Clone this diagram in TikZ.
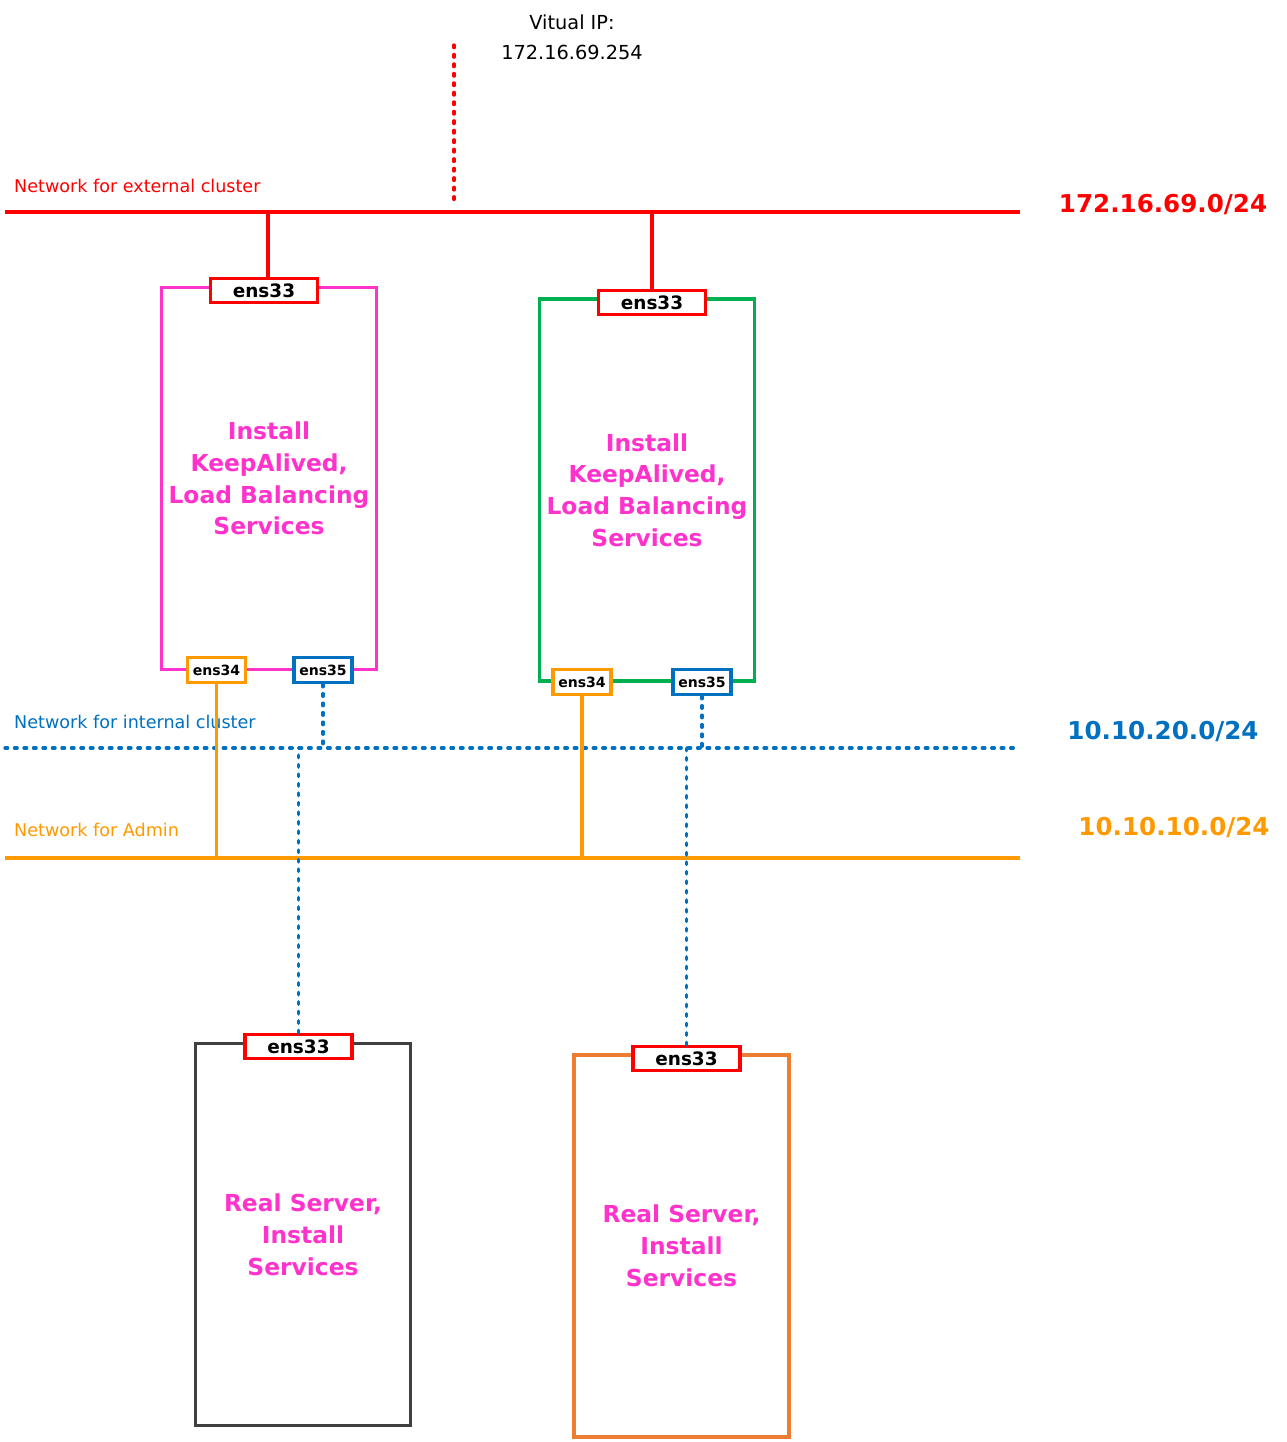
\documentclass[tikz,border=0pt]{standalone}
\usepackage{fontspec}
\setmainfont{DejaVu Sans}
\usepackage{xcolor}
\usetikzlibrary{positioning}
\definecolor{netred}{HTML}{FF0000}
\definecolor{netblue}{HTML}{0070C0}
\definecolor{netorange}{HTML}{FF9900}
\definecolor{lbpink}{HTML}{FF33CC}
\definecolor{lbgreen}{HTML}{00B050}
\definecolor{rsgray}{HTML}{404040}
\definecolor{rsorange}{HTML}{ED7D31}

\begin{document}
\begin{tikzpicture}[x=0.02cm,y=-0.02cm,
  port/.style={draw=#1,line width=1.9pt,fill=white,inner sep=0pt},
  eth33/.style={port=netred,minimum width=2.14cm,minimum height=0.48cm,font=\fontsize{10.5}{12}\selectfont\bfseries},
  ethsmall/.style={port=#1,minimum width=1.16cm,minimum height=0.5cm,font=\fontsize{8}{10}\selectfont\bfseries},
  server/.style={draw=#1,line width=1.9pt,minimum width=4.3cm,minimum height=7.64cm,inner sep=0pt,align=center,text=lbpink,font=\fontsize{13.3}{18.1}\selectfont\bfseries},
  net/.style={line width=1.9pt,#1},
  dots/.style={line width=1.9pt,line cap=round,dash pattern=on 1.5pt off 3.9pt,#1},
  netlabel/.style={anchor=west,font=\fontsize{10}{12}\selectfont,text=#1},
  netaddr/.style={font=\fontsize{14}{16}\selectfont\bfseries,text=#1}]
\useasboundingbox (0,0) rectangle (1286,1442);

% network names
\node[netlabel=netred] (extlbl) at (8,186) {Network for external cluster};
\node[netlabel=netblue] (intlbl) at (8,722) {Network for internal cluster};
\node[netlabel=netorange] (admlbl) at (8,830) {Network for Admin};
\node[netaddr=netred] (extaddr) at (1163,205) {172.16.69.0/24};
\node[netaddr=netblue] (intaddr) at (1163,732) {10.10.20.0/24};
\node[netaddr=netorange] (admaddr) at (1174,828) {10.10.10.0/24};

% the three networks
\coordinate (ext) at (5,212);
\coordinate (int) at (5,748);
\coordinate (adm) at (5,858);
\draw[net=netred] (ext) -- (1020,212);
\draw[dots=netblue] (int) -- (1020,748);
\draw[net=netorange] (adm) -- (1020,858);

% virtual ip
\node[align=center,font=\fontsize{11}{17}\selectfont] (viplbl) at (572,37) {Vitual IP:\\172.16.69.254};
\coordinate (vip) at (454,45);
\draw[dots=netred] (vip) -- (454,205);

% servers
\node[server=lbpink] (lbA) at (269,478.5) {Install\\KeepAlived,\\Load Balancing\\Services};
\node[server=lbgreen] (lbB) at (647,490) {Install\\KeepAlived,\\Load Balancing\\Services};
\node[server=rsgray] (rsA) at (303,1234.5) {Real Server,\\Install\\Services};
\node[server=rsorange] (rsB) at (681.5,1246) {Real Server,\\Install\\Services};

% interfaces
\node[eth33] (lbA33) at (264,290.5) {ens33};
\node[eth33] (lbB33) at (652,302.5) {ens33};
\node[eth33] (rsA33) at (298.5,1046.5) {ens33};
\node[eth33] (rsB33) at (686.5,1058.5) {ens33};
\node[ethsmall=netorange] (lbA34) at (216.5,670) {ens34};
\node[ethsmall=netblue] (lbA35) at (323,670) {ens35};
\node[ethsmall=netorange] (lbB34) at (582,682) {ens34};
\node[ethsmall=netblue] (lbB35) at (702,682) {ens35};

% links
\draw[net=netred] ([xshift=0.08cm]lbA33.north) -- ([xshift=0.08cm]lbA33.north |- ext);
\draw[net=netred] (lbB33.north) -- (lbB33.north |- ext);
\draw[net=netorange] (lbA34.south) -- (lbA34.south |- adm);
\draw[net=netorange] (lbB34.south) -- (lbB34.south |- adm);
\draw[dots=netblue] (lbA35.south) -- (lbA35.south |- int);
\draw[dots=netblue] (lbB35.south) -- (lbB35.south |- int);
\draw[dots=netblue] (rsA33.north) -- (rsA33.north |- int);
\draw[dots=netblue] (rsB33.north) -- (rsB33.north |- int);
\end{tikzpicture}
\end{document}
